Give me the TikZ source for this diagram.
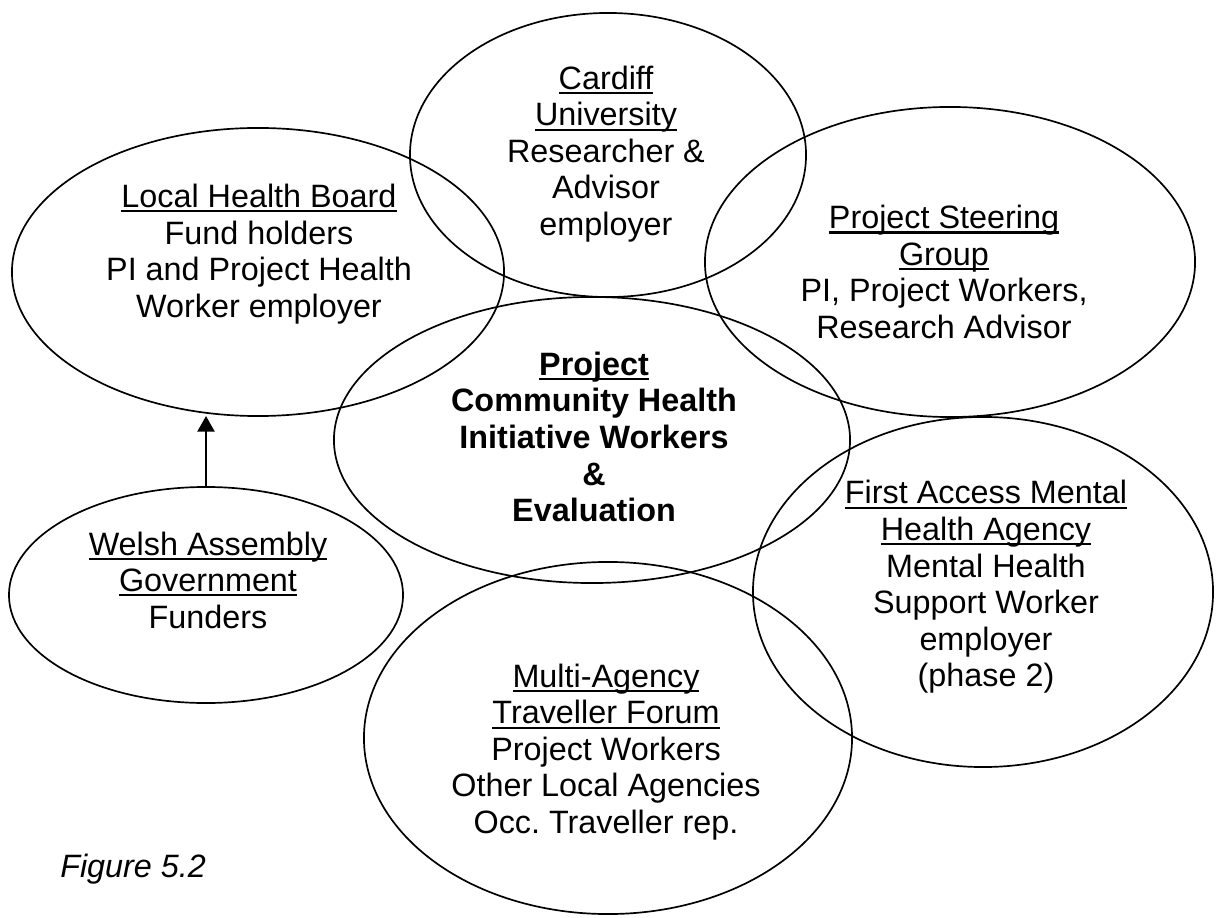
\documentclass[tikz,border=0pt]{standalone}
\usepackage{fontspec}
\setmainfont{Liberation Sans}
\usetikzlibrary{shapes.geometric, arrows.meta}
\newcommand{\undl}[1]{\setbox0=\hbox{#1}\rlap{\rule[-0.15em]{\wd0}{0.065em}}\box0}
\tikzset{
    bubble/.style={ellipse, draw=black, line width=1.2pt, inner sep=0pt, outer sep=0pt},
    blurb/.style={align=center, inner sep=0pt, font=\fontsize{23}{26}\selectfont},
    feed/.style={-{Triangle[length=11pt, width=12pt]}, line width=1.8pt},
}

\begin{document}
\begin{tikzpicture}[x=0.025cm, y=-0.025cm]
    \useasboundingbox (0,0) rectangle (1216,918);
    \node[bubble, minimum width=12.3cm, minimum height=7.2cm] (lhb) at (258,272) {};
    \node[bubble, minimum width=9.9cm, minimum height=7.1cm] (cardiff) at (608,155) {};
    \node[bubble, minimum width=12.25cm, minimum height=7.75cm] (steer) at (950,262) {};
    \node[bubble, minimum width=12.9cm, minimum height=7.15cm] (proj) at (592,440) {};
    \node[bubble, minimum width=9.85cm, minimum height=5.4cm] (wag) at (206,595) {};
    \node[bubble, minimum width=11.5cm, minimum height=8.75cm] (first) at (983,592) {};
    \node[bubble, minimum width=12.2cm, minimum height=8.8cm] (forum) at (608,738) {};

    \node[blurb] (lhbtext) at (259,254) {\undl{Local Health Board}\\Fund holders\\PI and Project Health\\Worker employer};
    \node[blurb] (cardifftext) at (606,154) {\undl{Cardiff}\\\undl{University}\\Researcher \&\\Advisor\\employer};
    \node[blurb] (steertext) at (944,272) {\undl{Project Steering}\\\undl{Group}\\PI, Project Workers,\\Research Advisor};
    \node[blurb, font=\fontsize{23}{26}\selectfont\bfseries] (projtext) at (594,437) {\undl{Project}\\Community Health\\Initiative Workers\\\&\\Evaluation};
    \node[blurb] (wagtext) at (208,580) {\undl{Welsh Assembly}\\\undl{Government}\\Funders};
    \node[blurb] (firsttext) at (986,587) {\undl{First Access Mental}\\\undl{Health Agency}\\Mental Health\\Support Worker\\employer\\(phase 2)};
    \node[blurb] (forumtext) at (606,752) {\undl{Multi-Agency}\\\undl{Traveller Forum}\\Project Workers\\Other Local Agencies\\Occ.\ Traveller rep.};

    \draw[feed] (wag.north) -- (wag.north |- lhb.south);

    \node[blurb, font=\fontsize{23}{26}\selectfont\itshape, anchor=base west] (fig) at (60,877) {Figure 5.2};
\end{tikzpicture}
\end{document}
